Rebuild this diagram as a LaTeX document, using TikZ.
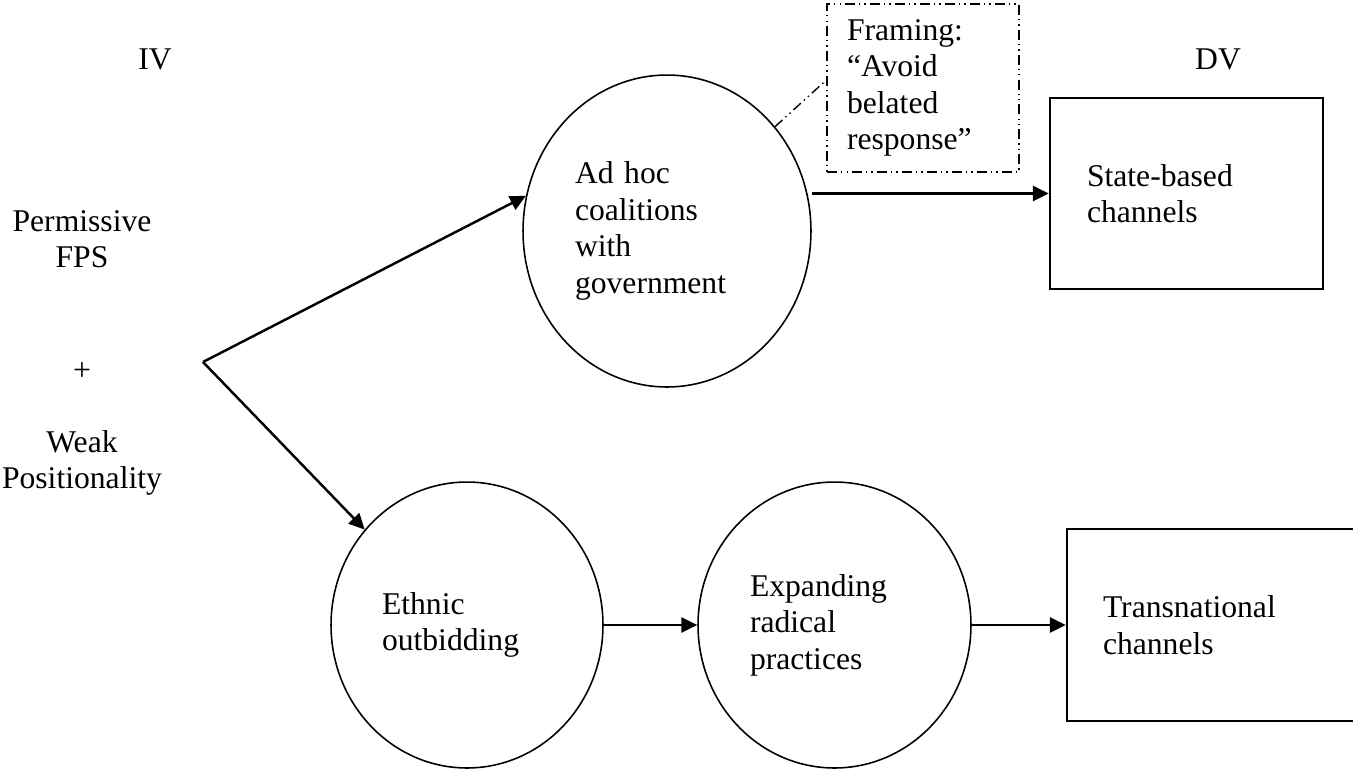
\documentclass[tikz,border=0pt]{standalone}
\usepackage{fontspec}
\setmainfont{Liberation Serif}
\usetikzlibrary{shapes.geometric,arrows.meta}

\begin{document}
\begin{tikzpicture}[x=0.02cm, y=-0.02cm,
		font=\fontsize{18pt}{20.8pt}\selectfont,
		bubble/.style={draw, ellipse, line width=0.9pt, inner sep=0pt, align=left},
		outcome/.style={draw, rectangle, line width=1.5pt, inner sep=0pt, align=left},
		framebox/.style={draw, rectangle, line width=0.8pt, inner sep=0pt, align=left,
			dash pattern=on 5.7pt off 2.3pt on 0.8pt off 2.3pt on 0.8pt off 2.3pt},
		arrow/.style={line width=1.4pt, -{Triangle[length=9pt, width=8.5pt]}}]
			%%%%% START %%%%%
			
			\useasboundingbox (0, 0) rectangle (1353, 769);
			\clip (0, 0) rectangle (1353, 769);
			
			\node[anchor=base] (iv) at (155, 69) {IV};
			\node[anchor=base] (dv) at (1218, 69) {DV};
			
			\node[align=center, inner sep=0pt] (fps) at (82, 239) {Permissive\\FPS};
			\node[inner sep=0pt] (plus) at (82, 372) {+};
			\node[align=center, inner sep=0pt] (weak) at (82, 463) {Weak\\Positionality};
			\coordinate (split) at (203, 362);
			
			\node[bubble, minimum width=5.76cm, minimum height=6.24cm, text width=3.68cm] (adhoc) at (667, 231) {Ad hoc\\coalitions\\with\\government};
			\node[bubble, minimum width=5.44cm, minimum height=5.72cm, text width=3.4cm] (ethnic) at (467, 625) {Ethnic\\outbidding};
			\node[bubble, minimum width=5.46cm, minimum height=5.72cm, text width=3.38cm] (expand) at (834.5, 625) {Expanding\\radical\\practices};
			
			\node[outcome, minimum width=5.46cm, minimum height=3.82cm, text width=3.98cm] (state) at (1186.5, 193.5) {State-based\\channels};
			\node[outcome, minimum width=6cm, minimum height=3.84cm, text width=4.56cm] (trans) at (1217, 625) {Transnational\\channels};
			
			\node[framebox, minimum width=3.84cm, minimum height=3.36cm, text width=3.04cm] (frame) at (923, 88) {Framing:\\“Avoid\\belated\\response”};
			
			\draw[arrow] (split) -- (adhoc.166);
			\draw[arrow] (split) -- (ethnic.137);
			\draw[arrow] (adhoc.east |- state.west) -- (state.west);
			\draw[arrow] (ethnic) -- (expand);
			\draw[arrow] (expand) -- (trans);
			
			\draw[line width=0.8pt, dash pattern=on 5.7pt off 2.3pt on 0.8pt off 2.3pt on 0.8pt off 2.3pt] (adhoc.44) -- ([yshift=0.16cm]frame.west);
			
			%%%%% END %%%%%
		\end{tikzpicture}
\end{document}
